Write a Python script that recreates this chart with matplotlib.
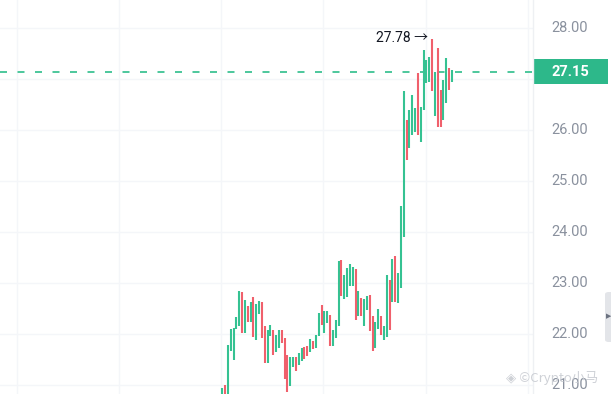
import matplotlib
matplotlib.use("Agg")
import matplotlib.pyplot as plt
from matplotlib.patches import Rectangle, FancyBboxPatch
import matplotlib.transforms as mtransforms

plt.rcParams['font.family'] = ['Roboto', 'Noto Sans CJK SC', 'DejaVu Sans']

# ---- data ----
highs = [20.93, 21.00, 21.78, 22.10, 22.11, 22.33, 22.84, 22.82, 22.67, 22.55,
         22.62, 22.72, 22.58, 22.65, 22.62, 22.16, 22.08, 22.18, 22.07, 21.98,
         22.08, 22.07, 21.92, 21.59, 21.55, 21.55, 21.55, 21.63, 21.72, 21.74,
         21.76, 21.90, 21.87, 21.98, 22.41, 22.57, 22.45, 22.45, 22.37, 22.08,
         22.28, 23.43, 23.45, 23.16, 23.29, 23.37, 23.32, 23.28, 22.84, 22.70,
         22.68, 22.75, 22.77, 22.35, 22.24, 22.50, 22.35, 22.16, 23.16, 23.06,
         23.47, 23.53, 23.19, 24.51, 26.76, 26.20, 26.40, 26.69, 26.43, 27.12,
         26.46, 27.57, 27.38, 27.44, 27.78, 27.15, 27.61, 26.79, 26.99, 27.41,
         27.22, 27.18]
lows = [20.60, 20.60, 20.60, 21.67, 21.49, 22.09, 22.16, 22.01, 22.01, 22.24,
        22.23, 21.95, 21.88, 22.39, 21.92, 21.43, 21.44, 21.96, 21.58, 21.65,
        21.72, 21.82, 21.11, 20.87, 20.97, 21.36, 21.28, 21.39, 21.46, 21.50,
        21.56, 21.64, 21.71, 21.72, 21.96, 22.18, 22.01, 22.21, 21.77, 21.77,
        21.92, 22.16, 22.75, 22.68, 22.73, 22.95, 22.95, 22.28, 22.35, 22.35,
        22.16, 22.47, 22.05, 21.67, 21.72, 22.09, 21.98, 21.88, 21.95, 22.07,
        22.62, 22.63, 22.60, 22.90, 23.90, 25.42, 25.65, 25.91, 25.97, 25.91,
        25.77, 26.40, 26.92, 26.95, 26.76, 26.27, 26.07, 26.07, 26.20, 26.53,
        26.79, 26.95]
direction = "GRGGGGGRGRGRGGRRGGRGGRRRGGRGGRRGRGGRGGRGGGRGGGGRGRGGRRGGRGGRGRGGGRGGGRGGGGRGRRGGRG"
last_price = 27.15
high_label = "27.78"
grid_prices = [21, 22, 23, 24, 25, 26, 27, 28]
label_prices = [21, 22, 23, 24, 25, 26, 28]

UP = '#35c292'
DOWN = '#f0606c'
BOX = '#2db88a'
GRID = '#f4f6f9'
TXT = '#8a919e'

W, H = 611, 394
fig = plt.figure(figsize=(W / 100, H / 100), dpi=100)
fig.patch.set_facecolor('white')
ax_w = 533 / W
ax = fig.add_axes([0, 0, ax_w, 1])
ax.set_facecolor('white')
for s in ax.spines.values():
    s.set_visible(False)
ax.set_xticks([])
ax.set_yticks([])

ax.set_xlim(-78.4, 109.6)
ax.set_ylim(20.822, 28.555)

# grid
for p in grid_prices:
    ax.axhline(p, color=GRID, lw=1.0, zorder=0)
for gx in [-72, -36, 0, 36, 72, 108]:
    ax.axvline(gx - 0.3, color=GRID, lw=1.0, zorder=0)

# bars
n = len(highs)
xs = list(range(n))
up_x = [i for i in xs if direction[i] == 'G']
dn_x = [i for i in xs if direction[i] == 'R']
ax.vlines(up_x, [lows[i] for i in up_x], [highs[i] for i in up_x], color=UP, lw=1.5, zorder=3)
ax.vlines(dn_x, [lows[i] for i in dn_x], [highs[i] for i in dn_x], color=DOWN, lw=1.5, zorder=3)

# last price dashed line
ax.axhline(last_price, color='#4cc79c', lw=1.4, ls=(0, (3.6, 5.4)), zorder=2)

# high label
hi_idx = max(xs, key=lambda i: highs[i])
ax.text(hi_idx - 1.5, highs[hi_idx] + 0.02, high_label + " \u2192", ha='right', va='center',
        fontsize=10, color='#131722', zorder=5)

# right price scale
fig.add_artist(plt.Line2D([ax_w, ax_w], [0, 1], color='#eef0f3', lw=1.0))
trans = mtransforms.blended_transform_factory(fig.transFigure, ax.transData)
for p in label_prices:
    ax.text(570 / W, p, f"{p:.2f}", transform=trans, ha='center', va='center',
            fontsize=10.5, color=TXT, clip_on=False)

# last price box
ybox = ax.transData.transform((0, last_price))[1]
fig.add_artist(Rectangle((533 / W, (ybox - 12.5) / H), 75 / W, 25 / H,
                         transform=fig.transFigure, facecolor=BOX, edgecolor='none'))
fig.text(570 / W, ybox / H, f"{last_price:.2f}", ha='center', va='center',
         fontsize=10.5, color='white', fontweight='bold')

# side tab
fig.add_artist(FancyBboxPatch((605 / W, (H - 342) / H), 10 / W, 50 / H,
                              boxstyle="round,pad=0,rounding_size=0.006",
                              transform=fig.transFigure, facecolor='#e3e5e9', edgecolor='none'))
fig.text(608.5 / W, 1 - 316 / H, "\u25B6", ha='center', va='center', fontsize=5, color='#6b7280',
         family=['DejaVu Sans'])

# watermark
fig.text(552 / W, 1 - 378 / H, "\u25C8 \u00A9Crypto\u5C0F\u9A6C", ha='center', va='center',
         fontsize=9.5, color='#c9ccd2', alpha=0.9,
         family=['Noto Sans CJK SC', 'DejaVu Sans'], zorder=10)

fig.savefig("out.png", dpi=100, facecolor='white')
